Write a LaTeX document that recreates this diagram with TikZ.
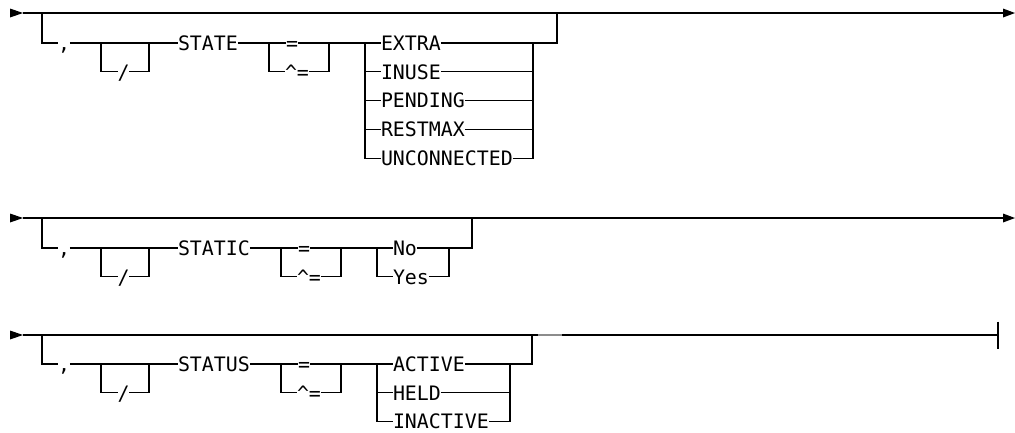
\documentclass[tikz,border=0pt]{standalone}
\usepackage{fontspec}
\newfontfamily\rrfont{DejaVu Sans Mono}
\tikzset{
  rr/.style={line width=1.3pt, line cap=butt, line join=miter},
  kw/.style={inner sep=0pt, outer sep=0pt, anchor=west, text height=14.5pt, text depth=0pt,
             font=\rrfont\fontsize{19.9pt}{20pt}\selectfont},
  tipfill/.style={fill=black},
  fadeseg/.style={line width=1.3pt, draw=black!45},
}
\begin{document}
\begin{tikzpicture}[x=1pt,y=-1pt]
\useasboundingbox (0,0) rectangle (1015,432);

% ================= Diagram 1 : STATE =================
\coordinate (d1st) at (23,13);
\coordinate (d1en) at (1003,13);
\coordinate (d1lv) at (42,13);
\coordinate (d1sa) at (101,43);
\coordinate (d1sb) at (149,43);
\coordinate (d1ea) at (269,43);
\coordinate (d1eb) at (329,43);
\coordinate (d1ca) at (365,43);
\coordinate (d1cb) at (533,43);
\coordinate (d1rv) at (557,13);

\node[kw] (d1c)  at (58,43) {,};
\node[kw] (d1sl) at (117.5,71.8) {/};
\node[kw] (d1k)  at (178,43) {STATE};
\node[kw] (d1eq) at (286,43) {=};
\node[kw] (d1ne) at (285,71.8) {\textasciicircum=};
\node[kw] (d1o1) at (381,43) {EXTRA};
\node[kw] (d1o2) at (381,71.8) {INUSE};
\node[kw] (d1o3) at (381,100.6) {PENDING};
\node[kw] (d1o4) at (381,129.4) {RESTMAX};
\node[kw] (d1o5) at (381,158.2) {UNCONNECTED};

\fill[tipfill] (d1st) -- ++(-13,-4.5) -- ++(0,9) -- cycle;
\draw[rr] (d1st) -- (d1en);
\fill[tipfill] (d1en) -- ++(0,-4.5) -- ++(12,4.5) -- ++(-12,4.5) -- cycle;
\draw[rr] (d1lv) |- (d1c.west);
\draw[rr] (d1c.east) -- (d1k.west);
\draw[rr] (d1sa) |- (d1sl.west);
\draw[rr] (d1sl.east) -| (d1sb);
\draw[rr] (d1k.east) -- (d1eq.west);
\draw[rr] (d1eq.east) -- (d1o1.west);
\draw[rr] (d1ea) |- (d1ne.west);
\draw[rr] (d1ne.east) -| (d1eb);
\draw[rr] (d1ca) |- (d1o5.west);
\draw[rr] (d1ca |- d1o2.west) -- (d1o2.west);
\draw[rr] (d1ca |- d1o3.west) -- (d1o3.west);
\draw[rr] (d1ca |- d1o4.west) -- (d1o4.west);
\draw[rr] (d1o1.east) -- (d1cb);
\draw[rr] (d1o2.east) -- (d1cb |- d1o2.east);
\draw[rr] (d1o3.east) -- (d1cb |- d1o3.east);
\draw[rr] (d1o4.east) -- (d1cb |- d1o4.east);
\draw[rr] (d1o5.east) -| (d1cb);
\draw[rr] (d1cb) -| (d1rv);

% ================= Diagram 2 : STATIC =================
\coordinate (d2st) at (23,218);
\coordinate (d2en) at (1003,218);
\coordinate (d2lv) at (42,218);
\coordinate (d2sa) at (101,248);
\coordinate (d2sb) at (149,248);
\coordinate (d2ea) at (281,248);
\coordinate (d2eb) at (341,248);
\coordinate (d2ca) at (377,248);
\coordinate (d2cb) at (449,248);
\coordinate (d2rv) at (472,218);

\node[kw] (d2c)  at (58,248) {,};
\node[kw] (d2sl) at (117.5,276.8) {/};
\node[kw] (d2k)  at (178,248) {STATIC};
\node[kw] (d2eq) at (298,248) {=};
\node[kw] (d2ne) at (297,276.8) {\textasciicircum=};
\node[kw] (d2o1) at (393,248) {No};
\node[kw] (d2o2) at (393,276.8) {Yes};

\fill[tipfill] (d2st) -- ++(-13,-4.5) -- ++(0,9) -- cycle;
\draw[rr] (d2st) -- (d2en);
\fill[tipfill] (d2en) -- ++(0,-4.5) -- ++(12,4.5) -- ++(-12,4.5) -- cycle;
\draw[rr] (d2lv) |- (d2c.west);
\draw[rr] (d2c.east) -- (d2k.west);
\draw[rr] (d2sa) |- (d2sl.west);
\draw[rr] (d2sl.east) -| (d2sb);
\draw[rr] (d2k.east) -- (d2eq.west);
\draw[rr] (d2eq.east) -- (d2o1.west);
\draw[rr] (d2ea) |- (d2ne.west);
\draw[rr] (d2ne.east) -| (d2eb);
\draw[rr] (d2ca) |- (d2o2.west);
\draw[rr] (d2o1.east) -- (d2cb);
\draw[rr] (d2o2.east) -| (d2cb);
\draw[rr] (d2cb) -| (d2rv);

% ================= Diagram 3 : STATUS =================
\coordinate (d3st) at (23,335);
\coordinate (d3en) at (998,335);
\coordinate (d3lv) at (42,335);
\coordinate (d3sa) at (101,364);
\coordinate (d3sb) at (149,364);
\coordinate (d3ea) at (281,364);
\coordinate (d3eb) at (341,364);
\coordinate (d3ca) at (377,364);
\coordinate (d3cb) at (510,364);
\coordinate (d3rv) at (532,335);
\coordinate (d3ga) at (538,335);
\coordinate (d3gb) at (562,335);

\node[kw] (d3c)  at (58,364) {,};
\node[kw] (d3sl) at (117.5,392.8) {/};
\node[kw] (d3k)  at (178,364) {STATUS};
\node[kw] (d3eq) at (298,364) {=};
\node[kw] (d3ne) at (297,392.8) {\textasciicircum=};
\node[kw] (d3o1) at (393,364) {ACTIVE};
\node[kw] (d3o2) at (393,392.8) {HELD};
\node[kw] (d3o3) at (393,421.6) {INACTIVE};

\fill[tipfill] (d3st) -- ++(-13,-4.5) -- ++(0,9) -- cycle;
\draw[rr] (d3st) -- (d3en);
\draw[rr] (d3en) ++(0,-13.5) -- ++(0,27);
\draw[fadeseg] (d3ga) -- (d3gb);
\draw[rr] (d3lv) |- (d3c.west);
\draw[rr] (d3c.east) -- (d3k.west);
\draw[rr] (d3sa) |- (d3sl.west);
\draw[rr] (d3sl.east) -| (d3sb);
\draw[rr] (d3k.east) -- (d3eq.west);
\draw[rr] (d3eq.east) -- (d3o1.west);
\draw[rr] (d3ea) |- (d3ne.west);
\draw[rr] (d3ne.east) -| (d3eb);
\draw[rr] (d3ca) |- (d3o3.west);
\draw[rr] (d3ca |- d3o2.west) -- (d3o2.west);
\draw[rr] (d3o1.east) -- (d3cb);
\draw[rr] (d3o2.east) -- (d3cb |- d3o2.east);
\draw[rr] (d3o3.east) -| (d3cb);
\draw[rr] (d3cb) -| (d3rv);
\end{tikzpicture}
\end{document}
